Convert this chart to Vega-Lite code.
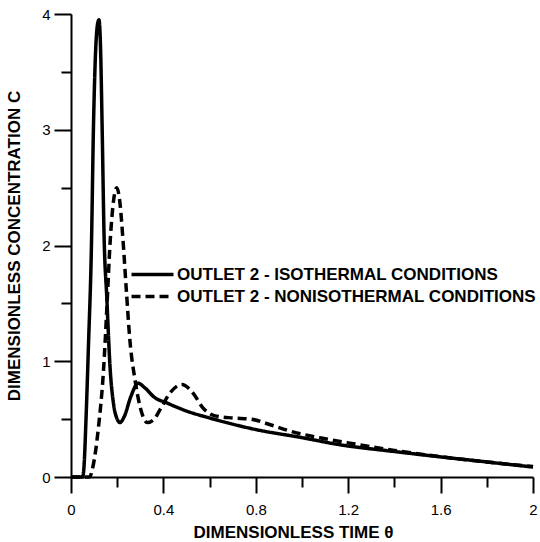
{
  "$schema": "https://vega.github.io/schema/vega-lite/v6.json",
  "width": 462,
  "height": 463,
  "autosize": {"type": "none"},
  "padding": {"left": 71, "top": 14, "right": 7, "bottom": 65},
  "background": "white",
  "config": {
    "view": {"stroke": null},
    "font": "Liberation Sans",
    "axis": {"grid": false, "labelColor": "black", "titleColor": "black", "labelFont": "Liberation Sans", "titleFont": "Liberation Sans", "labelFontSize": 15, "titleFontSize": 17, "titleFontWeight": "bold"}
  },
  "data": {"values": [
    {"s": "OUTLET 2 - ISOTHERMAL CONDITIONS", "t": 0, "c": 0},
    {"s": "OUTLET 2 - ISOTHERMAL CONDITIONS", "t": 0.05, "c": 0},
    {"s": "OUTLET 2 - ISOTHERMAL CONDITIONS", "t": 0.056, "c": 0.08},
    {"s": "OUTLET 2 - ISOTHERMAL CONDITIONS", "t": 0.065, "c": 0.5},
    {"s": "OUTLET 2 - ISOTHERMAL CONDITIONS", "t": 0.075, "c": 1.1},
    {"s": "OUTLET 2 - ISOTHERMAL CONDITIONS", "t": 0.089, "c": 2.05},
    {"s": "OUTLET 2 - ISOTHERMAL CONDITIONS", "t": 0.097, "c": 3.0},
    {"s": "OUTLET 2 - ISOTHERMAL CONDITIONS", "t": 0.105, "c": 3.6},
    {"s": "OUTLET 2 - ISOTHERMAL CONDITIONS", "t": 0.114, "c": 3.9},
    {"s": "OUTLET 2 - ISOTHERMAL CONDITIONS", "t": 0.121, "c": 3.95},
    {"s": "OUTLET 2 - ISOTHERMAL CONDITIONS", "t": 0.128, "c": 3.7},
    {"s": "OUTLET 2 - ISOTHERMAL CONDITIONS", "t": 0.135, "c": 3.0},
    {"s": "OUTLET 2 - ISOTHERMAL CONDITIONS", "t": 0.143, "c": 2.1},
    {"s": "OUTLET 2 - ISOTHERMAL CONDITIONS", "t": 0.155, "c": 1.55},
    {"s": "OUTLET 2 - ISOTHERMAL CONDITIONS", "t": 0.169, "c": 0.95},
    {"s": "OUTLET 2 - ISOTHERMAL CONDITIONS", "t": 0.185, "c": 0.62},
    {"s": "OUTLET 2 - ISOTHERMAL CONDITIONS", "t": 0.2, "c": 0.5},
    {"s": "OUTLET 2 - ISOTHERMAL CONDITIONS", "t": 0.212, "c": 0.47},
    {"s": "OUTLET 2 - ISOTHERMAL CONDITIONS", "t": 0.23, "c": 0.52},
    {"s": "OUTLET 2 - ISOTHERMAL CONDITIONS", "t": 0.26, "c": 0.7},
    {"s": "OUTLET 2 - ISOTHERMAL CONDITIONS", "t": 0.29, "c": 0.81},
    {"s": "OUTLET 2 - ISOTHERMAL CONDITIONS", "t": 0.32, "c": 0.77},
    {"s": "OUTLET 2 - ISOTHERMAL CONDITIONS", "t": 0.36, "c": 0.69},
    {"s": "OUTLET 2 - ISOTHERMAL CONDITIONS", "t": 0.415, "c": 0.64},
    {"s": "OUTLET 2 - ISOTHERMAL CONDITIONS", "t": 0.5, "c": 0.57},
    {"s": "OUTLET 2 - ISOTHERMAL CONDITIONS", "t": 0.6, "c": 0.51},
    {"s": "OUTLET 2 - ISOTHERMAL CONDITIONS", "t": 0.8, "c": 0.41},
    {"s": "OUTLET 2 - ISOTHERMAL CONDITIONS", "t": 1.0, "c": 0.34},
    {"s": "OUTLET 2 - ISOTHERMAL CONDITIONS", "t": 1.16, "c": 0.28},
    {"s": "OUTLET 2 - ISOTHERMAL CONDITIONS", "t": 1.4, "c": 0.22},
    {"s": "OUTLET 2 - ISOTHERMAL CONDITIONS", "t": 1.55, "c": 0.185},
    {"s": "OUTLET 2 - ISOTHERMAL CONDITIONS", "t": 1.8, "c": 0.13},
    {"s": "OUTLET 2 - ISOTHERMAL CONDITIONS", "t": 2.0, "c": 0.086},
    {"s": "OUTLET 2 - NONISOTHERMAL CONDITIONS", "t": 0, "c": 0},
    {"s": "OUTLET 2 - NONISOTHERMAL CONDITIONS", "t": 0.08, "c": 0},
    {"s": "OUTLET 2 - NONISOTHERMAL CONDITIONS", "t": 0.095, "c": 0.09},
    {"s": "OUTLET 2 - NONISOTHERMAL CONDITIONS", "t": 0.12, "c": 0.45},
    {"s": "OUTLET 2 - NONISOTHERMAL CONDITIONS", "t": 0.14, "c": 0.9},
    {"s": "OUTLET 2 - NONISOTHERMAL CONDITIONS", "t": 0.155, "c": 1.45},
    {"s": "OUTLET 2 - NONISOTHERMAL CONDITIONS", "t": 0.17, "c": 2.05},
    {"s": "OUTLET 2 - NONISOTHERMAL CONDITIONS", "t": 0.185, "c": 2.4},
    {"s": "OUTLET 2 - NONISOTHERMAL CONDITIONS", "t": 0.198, "c": 2.5},
    {"s": "OUTLET 2 - NONISOTHERMAL CONDITIONS", "t": 0.21, "c": 2.4},
    {"s": "OUTLET 2 - NONISOTHERMAL CONDITIONS", "t": 0.225, "c": 2.05},
    {"s": "OUTLET 2 - NONISOTHERMAL CONDITIONS", "t": 0.24, "c": 1.6},
    {"s": "OUTLET 2 - NONISOTHERMAL CONDITIONS", "t": 0.255, "c": 1.18},
    {"s": "OUTLET 2 - NONISOTHERMAL CONDITIONS", "t": 0.277, "c": 0.84},
    {"s": "OUTLET 2 - NONISOTHERMAL CONDITIONS", "t": 0.3, "c": 0.6},
    {"s": "OUTLET 2 - NONISOTHERMAL CONDITIONS", "t": 0.33, "c": 0.47},
    {"s": "OUTLET 2 - NONISOTHERMAL CONDITIONS", "t": 0.36, "c": 0.5},
    {"s": "OUTLET 2 - NONISOTHERMAL CONDITIONS", "t": 0.385, "c": 0.58},
    {"s": "OUTLET 2 - NONISOTHERMAL CONDITIONS", "t": 0.43, "c": 0.73},
    {"s": "OUTLET 2 - NONISOTHERMAL CONDITIONS", "t": 0.48, "c": 0.8},
    {"s": "OUTLET 2 - NONISOTHERMAL CONDITIONS", "t": 0.53, "c": 0.72},
    {"s": "OUTLET 2 - NONISOTHERMAL CONDITIONS", "t": 0.57, "c": 0.6},
    {"s": "OUTLET 2 - NONISOTHERMAL CONDITIONS", "t": 0.62, "c": 0.53},
    {"s": "OUTLET 2 - NONISOTHERMAL CONDITIONS", "t": 0.7, "c": 0.51},
    {"s": "OUTLET 2 - NONISOTHERMAL CONDITIONS", "t": 0.78, "c": 0.5},
    {"s": "OUTLET 2 - NONISOTHERMAL CONDITIONS", "t": 0.85, "c": 0.46},
    {"s": "OUTLET 2 - NONISOTHERMAL CONDITIONS", "t": 0.96, "c": 0.39},
    {"s": "OUTLET 2 - NONISOTHERMAL CONDITIONS", "t": 1.1, "c": 0.33},
    {"s": "OUTLET 2 - NONISOTHERMAL CONDITIONS", "t": 1.2, "c": 0.295},
    {"s": "OUTLET 2 - NONISOTHERMAL CONDITIONS", "t": 1.4, "c": 0.23},
    {"s": "OUTLET 2 - NONISOTHERMAL CONDITIONS", "t": 1.6, "c": 0.175},
    {"s": "OUTLET 2 - NONISOTHERMAL CONDITIONS", "t": 1.8, "c": 0.13},
    {"s": "OUTLET 2 - NONISOTHERMAL CONDITIONS", "t": 2.0, "c": 0.09}
  ]},
  "resolve": {"axis": {"x": "independent", "y": "independent"}},
  "layer": [
    {
      "mark": {"type": "line", "strokeOpacity": 0},
      "encoding": {
        "x": {"field": "t", "type": "quantitative", "scale": {"domain": [0, 2], "nice": false},
          "axis": {"orient": "bottom", "title": null, "values": [0.2, 0.6, 1, 1.4, 1.8], "labels": false, "domain": false, "ticks": true, "tickSize": 10, "tickColor": "black", "tickWidth": 2, "tickOpacity": 1}},
        "y": {"field": "c", "type": "quantitative", "scale": {"domain": [0, 4], "nice": false},
          "axis": {"orient": "left", "title": null, "values": [0.5, 1.5, 2.5, 3.5], "labels": false, "domain": false, "ticks": true, "tickSize": 10, "tickColor": "black", "tickWidth": 2, "tickOpacity": 1}},
        "detail": {"field": "s"}
      }
    },
    {
      "mark": {"type": "line", "stroke": "black", "strokeWidth": 3.5, "interpolate": "monotone"},
      "encoding": {
        "x": {"field": "t", "type": "quantitative", "scale": {"domain": [0, 2], "nice": false},
          "axis": {"orient": "bottom", "title": "DIMENSIONLESS TIME θ", "titleX": 222, "values": [0, 0.4, 0.8, 1.2, 1.6, 2],
            "labelExpr": "format(datum.value, '~g')", "ticks": true, "tickSize": 16, "tickColor": "black", "tickWidth": 2, "tickOpacity": 1,
            "domainColor": "black", "domainWidth": 2,
            "labelPadding": 9, "titlePadding": 7, "labelFlush": false, "labelOverlap": false}},
        "y": {"field": "c", "type": "quantitative", "scale": {"domain": [0, 4], "nice": false},
          "axis": {"orient": "left", "title": "DIMENSIONLESS CONCENTRATION C", "values": [0, 1, 2, 3, 4],
            "labelExpr": "format(datum.value, 'd')", "ticks": true, "tickSize": 17, "tickColor": "black", "tickWidth": 2, "tickOpacity": 1,
            "domainColor": "black", "domainWidth": 2,
            "labelPadding": 4, "titlePadding": 18, "labelFlush": false, "labelOverlap": false}},
        "strokeDash": {"field": "s", "type": "nominal",
          "scale": {"domain": ["OUTLET 2 - ISOTHERMAL CONDITIONS", "OUTLET 2 - NONISOTHERMAL CONDITIONS"], "range": [[1, 0], [9, 5]]},
          "legend": {"title": null, "orient": "none", "legendX": 71, "legendY": 250, "symbolType": "M-2.5,0H2.5", "symbolSize": 282, "symbolStrokeWidth": 3.5, "symbolStrokeColor": "black", "labelFont": "Liberation Sans", "labelFontSize": 17, "labelFontWeight": "bold", "labelColor": "black", "labelOffset": 14, "rowPadding": 3, "padding": 0, "labelLimit": 500}}
      }
    }
  ]
}
